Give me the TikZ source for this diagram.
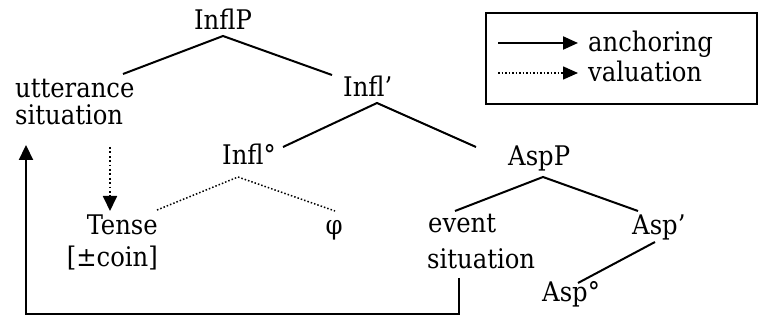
\documentclass[tikz,border=0pt]{standalone}
\usepackage{fontspec}
\setmainfont{DejaVu Serif Condensed}
\usetikzlibrary{arrows.meta}
\begin{document}
\begin{tikzpicture}[x=1pt,y=-1pt,
  lbl/.style={inner sep=0pt,font=\fontsize{27}{30}\selectfont},
  tree/.style={line width=2pt},
  dotline/.style={line width=1.5pt,dash pattern=on 1.5pt off 2pt},
  anch/.style={line width=2.2pt,-{Triangle[width=14pt,length=15pt]}},
  valu/.style={line width=1.8pt,dash pattern=on 1.8pt off 2.6pt,-{Triangle[width=14pt,length=15pt]}},
  legbox/.style={draw,line width=1.7pt,minimum width=271pt,minimum height=91pt,inner sep=0pt}]
\useasboundingbox (0,0) rectangle (758,320);
% tree labels
\node[lbl,anchor=base] (InflP) at (223,30) {InflP};
\node[lbl,anchor=base west] (utt1) at (15,98) {utterance};
\node[lbl,anchor=base west] (utt2) at (15,125) {situation};
\node[lbl,anchor=base west] (Inflbar) at (343,97) {Infl’};
\node[lbl,anchor=base west] (Inflo) at (222,165) {Infl°};
\node[lbl,anchor=base west] (AspP) at (508,166) {AspP};
\node[lbl,anchor=base east] (Tense) at (158,235) {Tense};
\node[lbl,anchor=base east] (coin) at (158,267) {[±coin]};
\node[lbl,anchor=base] (phi) at (334,235) {φ};
\node[lbl,anchor=base west] (ev1) at (428,233) {event};
\node[lbl,anchor=base west] (ev2) at (427,269) {situation};
\node[lbl,anchor=base west] (Aspbar) at (632,235) {Asp’};
\node[lbl,anchor=base west] (Aspo) at (542,302) {Asp°};
% attachment points
\coordinate (InflP-d) at (223,36);
\coordinate (utt-u) at (123,74);
\coordinate (Inflbar-u) at (332,75);
\coordinate (Inflbar-d) at (377,103);
\coordinate (Inflo-u) at (283,147);
\coordinate (AspP-u) at (476,147);
\coordinate (Inflo-d) at (238,177);
\coordinate (Tense-u) at (157,210);
\coordinate (phi-u) at (335,211);
\coordinate (AspP-d) at (543,177);
\coordinate (ev-u) at (455,211);
\coordinate (Aspbar-u) at (638,211);
\coordinate (Aspbar-d) at (655,242);
\coordinate (Aspo-u) at (578,283);
% tree lines
\draw[tree] (utt-u) -- (InflP-d) -- (Inflbar-u);
\draw[tree] (Inflo-u) -- (Inflbar-d) -- (AspP-u);
\draw[tree] (ev-u) -- (AspP-d) -- (Aspbar-u);
\draw[tree] (Aspbar-d) -- (Aspo-u);
\draw[dotline] (Tense-u) -- (Inflo-d) -- (phi-u);
% arrows
\coordinate (val-s) at (110,147);
\coordinate (val-e) at (110,211);
\draw[valu] (val-s) -- (val-e);
\coordinate (anc-s) at (459,278);
\coordinate (anc-c1) at (459,314);
\coordinate (anc-c2) at (26,314);
\coordinate (anc-e) at (26,145);
\draw[anch] (anc-s) -- (anc-c1) -- (anc-c2) -- (anc-e);
% legend
\node[legbox] (legend) at (621.5,58.5) {};
\node[lbl,anchor=base west] (lanc) at (588,52) {anchoring};
\node[lbl,anchor=base west] (lval) at (588,82) {valuation};
\coordinate (la-s) at (498,43);
\coordinate (la-e) at (578,43);
\coordinate (lv-s) at (498,73);
\coordinate (lv-e) at (578,73);
\draw[anch,-{Triangle[width=13pt,length=15pt]}] (la-s) -- (la-e);
\draw[dotline,-{Triangle[width=13pt,length=15pt]}] (lv-s) -- (lv-e);
\end{tikzpicture}
\end{document}
